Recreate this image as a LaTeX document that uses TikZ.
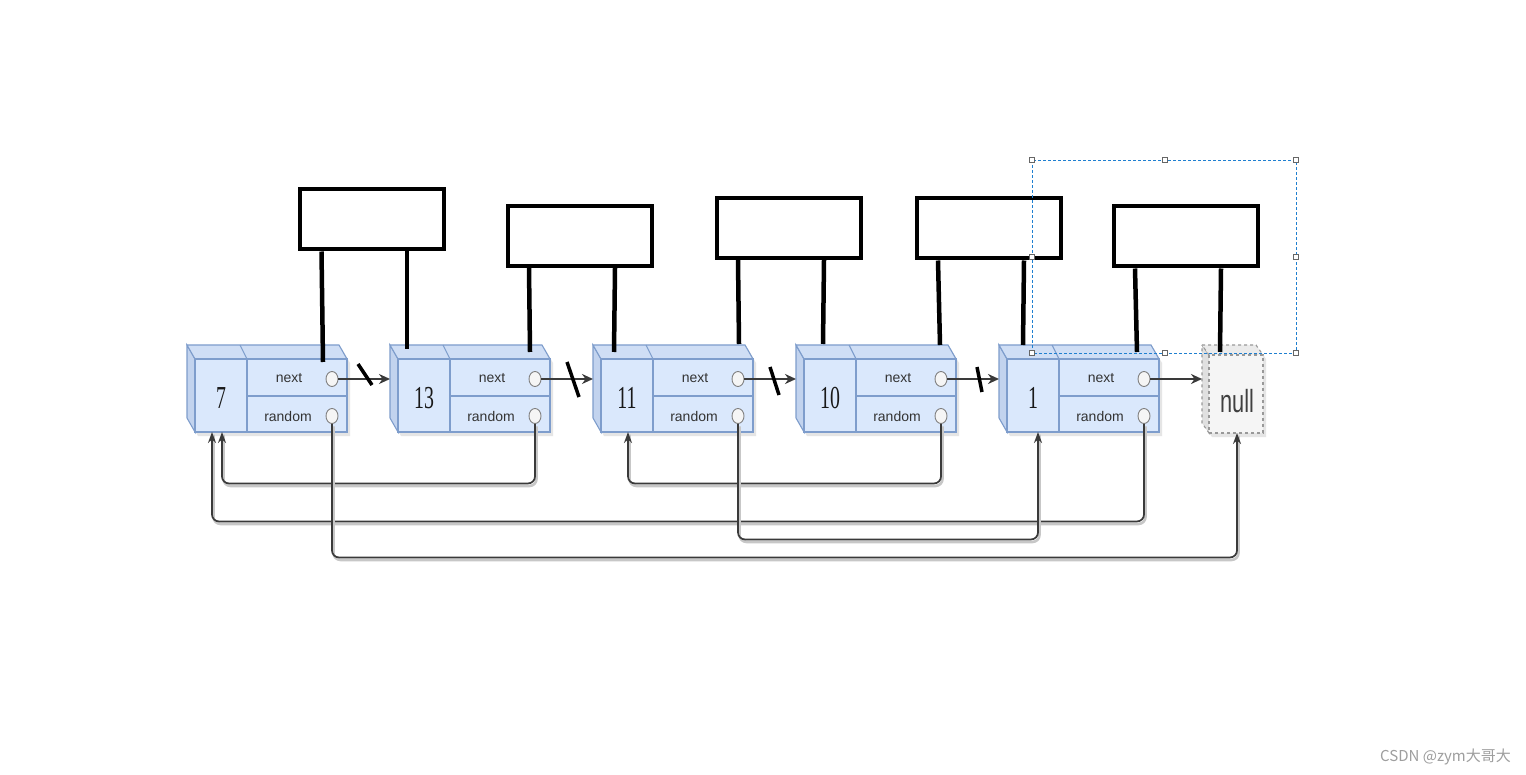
\documentclass[tikz,border=0pt]{standalone}
\usepackage{fontspec}
\newfontfamily\cjk{Noto Sans CJK SC}
\newfontfamily\numfont{Liberation Serif}
\newfontfamily\lblfont{Liberation Sans}
\usetikzlibrary{arrows.meta,calc,shapes.geometric}
\definecolor{nfill}{HTML}{DAE8FC}
\definecolor{nside}{HTML}{C2D3EE}
\definecolor{ntop}{HTML}{CFDEF5}
\definecolor{nline}{HTML}{7E9DCC}
\definecolor{arrc}{HTML}{3A3A3A}
\definecolor{selc}{HTML}{1E7FD0}
\tikzset{
  front/.style={draw=nline,fill=nfill,line width=1.1pt,minimum width=152pt,minimum height=73pt,inner sep=0pt},
  valtxt/.style={font=\numfont\fontsize{32}{32}\selectfont,text=black!90,inner sep=0pt},
  lbl/.style={font=\lblfont\fontsize{14}{14}\selectfont,text=black!80,inner sep=0pt},
  port/.style={ellipse,draw=black!50,fill=black!4,line width=0.9pt,minimum width=12pt,minimum height=15pt,inner sep=0pt},
  topbox/.style={draw=black,fill=white,line width=4pt,minimum width=144pt,minimum height=60pt,inner sep=0pt},
  leg/.style={draw=black,line width=4.5pt},
  slash/.style={draw=black,line width=3.5pt},
  narr/.style={draw=arrc,line width=2.4pt,-{Stealth[length=11pt,width=10pt]}},
  rarr/.style={draw=arrc,line width=1.7pt,rounded corners=7pt,-{Stealth[length=11pt,width=8pt]},
     preaction={draw=black!22,arrows=-,line width=2.6pt,transform canvas={shift={(1.5pt,-2.5pt)}}}},
  handle/.style={draw=black!60,fill=white,line width=0.8pt,minimum size=5pt,inner sep=0pt},
}
\newcommand\listnode[3]{%
 \begin{scope}[shift={(#2,0)}]
  \fill[black!10] (3,349) -- (155,349) -- (163,363) -- (163,436) -- (11,436) -- (3,422) -- cycle;
  \filldraw[fill=nside,draw=nline,line width=1.1pt] (0,345) -- (8,359) -- (8,432) -- (0,418) -- cycle;
  \filldraw[fill=ntop,draw=nline,line width=1.1pt] (0,345) -- (152,345) -- (160,359) -- (8,359) -- cycle;
  \draw[nline,line width=1.1pt] (53,345) -- (60,359);
  \node[front] (#1) at (84,395.5) {};
  \draw[nline,line width=1.1pt] (60,359) -- (60,432);
  \draw[nline,line width=1.8pt] (60,396) -- (160,396);
  \node[valtxt] (#1v) at (34,398) {\scalebox{0.62}[1]{#3}};
  \node[lbl] (#1nt) at (102,378) {next};
  \node[lbl] (#1rt) at (101,416) {random};
  \node[port] (#1n) at (145,379) {};
  \node[port] (#1r) at (145,416) {};
  \coordinate (#1L) at (0,379);
  \coordinate (#1ba) at (25,432);
  \coordinate (#1bb) at (35,432);
  \coordinate (#1bc) at (39,432);
 \end{scope}}
\begin{document}
\begin{tikzpicture}[x=1pt,y=-1pt]
\useasboundingbox (0,0) rectangle (1526,775);
\fill[white] (0,0) rectangle (1526,775);

% list nodes
\listnode{a}{187}{7}
\listnode{b}{390}{13}
\listnode{c}{593}{11}
\listnode{d}{796}{10}
\listnode{e}{999}{1}

% null node
\begin{scope}[shift={(1202,0)}]
  \fill[black!10] (3,349) -- (57,349) -- (64,359) -- (64,437) -- (10,437) -- (3,427) -- cycle;
  \filldraw[fill=black!12,draw=black!40,dashed,line width=1.1pt] (0,345) -- (7,355) -- (7,433) -- (0,423) -- cycle;
  \filldraw[fill=black!8,draw=black!40,dashed,line width=1.1pt] (0,345) -- (54,345) -- (61,355) -- (7,355) -- cycle;
  \node[draw=black!40,dashed,fill=black!4,line width=1.1pt,minimum width=54pt,minimum height=78pt,inner sep=0pt] (nl) at (34,394) {};
  \node[font=\lblfont\fontsize{32}{32}\selectfont,text=black!75,inner sep=0pt] (nlt) at (35,401) {\scalebox{0.68}[1]{null}};
  \coordinate (nlL) at (0,379);
  \coordinate (nlb) at (35,433);
\end{scope}

% next pointers
\draw[narr] (an) -- (bL);
\draw[narr] (bn) -- (cL);
\draw[narr] (cn) -- (dL);
\draw[narr] (dn) -- (eL);
\draw[narr] (en) -- (nlL);

% random pointers
\draw[rarr] (br.south) -- ++(0,59.5) -| (abb);
\draw[rarr] (er.south) -- ++(0,97.5) -| (aba);
\draw[rarr] (ar.south) -- ++(0,133.5) -| (nlb);
\draw[rarr] (dr.south) -- ++(0,59.5) -| (cbb);
\draw[rarr] (cr.south) -- ++(0,115.5) -| (ebc);

% cut marks on next pointers
\draw[slash] (358,364) -- (372,385);
\draw[slash] (567,362) -- (579,397);
\draw[slash] (770,367) -- (779,395);
\draw[slash] (977,367) -- (982,392);

% boxes on top
\node[topbox] (t1) at (371.5,219.5) {};
\node[topbox] (t2) at (580,236) {};
\node[topbox] (t3) at (788.5,228) {};
\node[topbox] (t4) at (988.5,228.5) {};
\node[topbox] (t5) at (1186,236.5) {};

\draw[leg] ([xshift=-50pt]t1.south) -- (323,362);
\draw[leg] ([xshift=35.5pt]t1.south) -- (407,349);
\draw[leg] ([xshift=-51pt]t2.south) -- (530,352);
\draw[leg] ([xshift=35pt]t2.south) -- (614,352);
\draw[leg] ([xshift=-50.5pt]t3.south) -- (739,344);
\draw[leg] ([xshift=35.5pt]t3.south) -- (823,344);
\draw[leg] ([xshift=-50.5pt]t4.south) -- (940,345);
\draw[leg] ([xshift=35.5pt]t4.south) -- (1023,345);
\draw[leg] ([xshift=-51pt]t5.south) -- (1137,352);
\draw[leg] ([xshift=35pt]t5.south) -- (1220,352);

% selection frame
\draw[selc,line width=0.9pt,dash pattern=on 3pt off 2pt] (1032,160) rectangle (1296,353);
\foreach \hx/\hy in {1032/160,1165/160,1296/160,1032/257,1296/257,1032/353,1165/353,1296/353}
  \node[handle] at (\hx,\hy) {};

% watermark
\node[anchor=east,text=black!38,font=\cjk\fontsize{15}{15}\selectfont,inner sep=0pt] (wm) at (1511,757) {CSDN @zym大哥大};
\end{tikzpicture}
\end{document}
